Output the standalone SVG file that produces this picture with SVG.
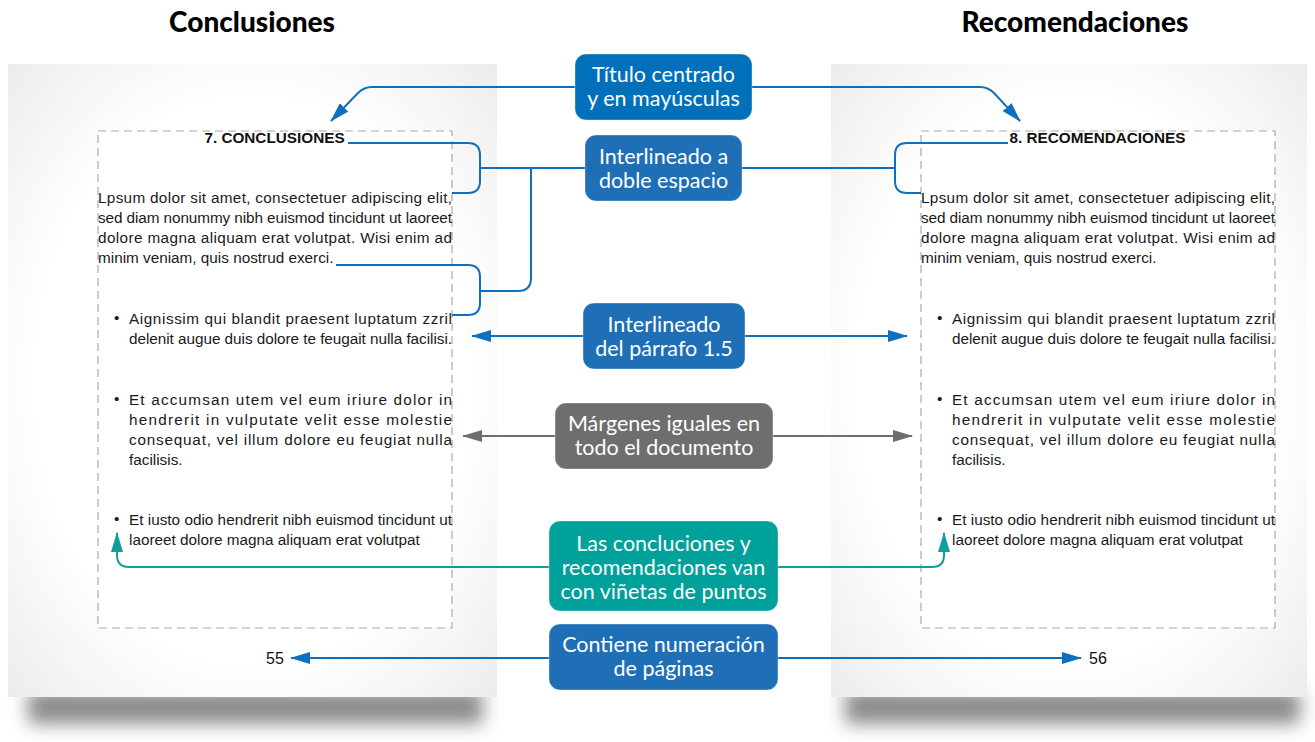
<svg xmlns="http://www.w3.org/2000/svg" width="1315" height="742" viewBox="0 0 1315 742">
  <defs>
    <radialGradient id="pageFill" cx="0.5" cy="0.5" r="0.72">
      <stop offset="0" stop-color="#ffffff"/>
      <stop offset="0.62" stop-color="#ffffff"/>
      <stop offset="1" stop-color="#ebebeb"/>
    </radialGradient>
    <filter id="softShadow" x="-20%" y="-100%" width="140%" height="300%">
      <feGaussianBlur stdDeviation="9"/>
    </filter>
    <marker id="arrowBlue" markerUnits="userSpaceOnUse" markerWidth="20" markerHeight="12" refX="19" refY="6" orient="auto-start-reverse">
      <path d="M0,0 L20,6 L0,12 Z" fill="#0f6fbf"/>
    </marker>
    <marker id="arrowGray" markerUnits="userSpaceOnUse" markerWidth="20" markerHeight="12" refX="19" refY="6" orient="auto-start-reverse">
      <path d="M0,0 L20,6 L0,12 Z" fill="#6e6e6e"/>
    </marker>
    <marker id="arrowTeal" markerUnits="userSpaceOnUse" markerWidth="20" markerHeight="12" refX="19" refY="6" orient="auto-start-reverse">
      <path d="M0,0 L20,6 L0,12 Z" fill="#0e9f98"/>
    </marker>
  </defs>
  <style>
    .heading { font-family: Lato, "Open Sans", sans-serif; font-weight: 900; font-size: 28px; fill: #000; text-anchor: middle; }
    .page { fill: url(#pageFill); }
    .shadow { fill: #8c8c8c; filter: url(#softShadow); }
    .frame { fill: #ffffff; stroke: #a9a9a9; stroke-width: 1.2; stroke-dasharray: 8 5; }
    .body { font-family: "Liberation Sans", Arial, sans-serif; font-size: 15.3px; fill: #1a1a1a; }
    .title { font-family: "Liberation Sans", Arial, sans-serif; font-size: 15.3px; font-weight: bold; fill: #111; text-anchor: middle; }
    .num { font-family: "Liberation Sans", Arial, sans-serif; font-size: 16px; fill: #111; text-anchor: middle; }
    .box { stroke: #ffffff; stroke-opacity: 0.35; stroke-width: 1; }
    .label { font-family: Lato, "Open Sans", sans-serif; font-size: 21.5px; fill: #ffffff; text-anchor: middle; }
    .blue { fill: #0070bb; }
    .mid { fill: #1f6fb6; }
    .gray { fill: #6e6e6e; }
    .teal { fill: #00a19a; }
    .lnBlue { fill: none; stroke: #0f6fbf; stroke-width: 2; }
    .lnGray { fill: none; stroke: #6e6e6e; stroke-width: 2; }
    .lnTeal { fill: none; stroke: #0e9f98; stroke-width: 2; }
  </style>

  <rect width="1315" height="742" fill="#ffffff"/>

  <!-- section headings -->
  <text class="heading" x="252" y="32">Conclusiones</text>
  <text class="heading" x="1075" y="32">Recomendaciones</text>

  <!-- left page -->
  <g id="page-left">
    <rect class="shadow" x="28" y="690" width="455" height="34"/>
    <rect class="page" x="8" y="64" width="489" height="633"/>
    <rect class="frame" x="98" y="131" width="354" height="497"/>
    <text class="title" x="274.5" y="143">7. CONCLUSIONES</text>
    <g class="body">
      <text x="98" y="203" textLength="354" lengthAdjust="spacing">Lpsum dolor sit amet, consectetuer adipiscing elit,</text>
      <text x="98" y="223" textLength="354" lengthAdjust="spacing">sed diam nonummy nibh euismod tincidunt ut laoreet</text>
      <text x="98" y="243" textLength="354" lengthAdjust="spacing">dolore magna aliquam erat volutpat. Wisi enim ad</text>
      <text x="98" y="263">minim veniam, quis nostrud exerci.</text>
      <text x="114" y="323">•</text>
      <text x="129" y="324" textLength="323" lengthAdjust="spacing">Aignissim qui blandit praesent luptatum zzril</text>
      <text x="129" y="344" textLength="323" lengthAdjust="spacing">delenit augue duis dolore te feugait nulla facilisi.</text>
      <text x="114" y="404">•</text>
      <text x="129" y="405" textLength="323" lengthAdjust="spacing">Et accumsan utem vel eum iriure dolor in</text>
      <text x="129" y="425" textLength="323" lengthAdjust="spacing">hendrerit in vulputate velit esse molestie</text>
      <text x="129" y="445" textLength="323" lengthAdjust="spacing">consequat, vel illum dolore eu feugiat nulla</text>
      <text x="129" y="465">facilisis.</text>
      <text x="114" y="524">•</text>
      <text x="129" y="525" textLength="323" lengthAdjust="spacing">Et iusto odio hendrerit nibh euismod tincidunt ut</text>
      <text x="129" y="545">laoreet dolore magna aliquam erat volutpat</text>
    </g>
    <text class="num" x="275" y="664">55</text>
  </g>

  <!-- right page -->
  <g id="page-right">
    <rect class="shadow" x="845" y="690" width="455" height="34"/>
    <rect class="page" x="831" y="64" width="476" height="633"/>
    <rect class="frame" x="921" y="131" width="354" height="497"/>
    <text class="title" x="1097.5" y="143">8. RECOMENDACIONES</text>
    <g class="body">
      <text x="921" y="203" textLength="354" lengthAdjust="spacing">Lpsum dolor sit amet, consectetuer adipiscing elit,</text>
      <text x="921" y="223" textLength="354" lengthAdjust="spacing">sed diam nonummy nibh euismod tincidunt ut laoreet</text>
      <text x="921" y="243" textLength="354" lengthAdjust="spacing">dolore magna aliquam erat volutpat. Wisi enim ad</text>
      <text x="921" y="263">minim veniam, quis nostrud exerci.</text>
      <text x="937" y="323">•</text>
      <text x="952" y="324" textLength="323" lengthAdjust="spacing">Aignissim qui blandit praesent luptatum zzril</text>
      <text x="952" y="344" textLength="323" lengthAdjust="spacing">delenit augue duis dolore te feugait nulla facilisi.</text>
      <text x="937" y="404">•</text>
      <text x="952" y="405" textLength="323" lengthAdjust="spacing">Et accumsan utem vel eum iriure dolor in</text>
      <text x="952" y="425" textLength="323" lengthAdjust="spacing">hendrerit in vulputate velit esse molestie</text>
      <text x="952" y="445" textLength="323" lengthAdjust="spacing">consequat, vel illum dolore eu feugiat nulla</text>
      <text x="952" y="465">facilisis.</text>
      <text x="937" y="524">•</text>
      <text x="952" y="525" textLength="323" lengthAdjust="spacing">Et iusto odio hendrerit nibh euismod tincidunt ut</text>
      <text x="952" y="545">laoreet dolore magna aliquam erat volutpat</text>
    </g>
    <text class="num" x="1098" y="664">56</text>
  </g>

  <!-- connectors -->
  <g id="connectors">
    <!-- centred title -->
    <path class="lnBlue" d="M575,87 H372 Q364,87 358,93 L331,121" marker-end="url(#arrowBlue)"/>
    <path class="lnBlue" d="M752,87 H980 Q988,87 994,93 L1020,121" marker-end="url(#arrowBlue)"/>
    <!-- double spacing brackets, left -->
    <path class="lnBlue" d="M348,143 H468 Q480,143 480,155 V181 Q480,193 468,193 H452"/>
    <path class="lnBlue" d="M480,168 H585"/>
    <path class="lnBlue" d="M336,265 H468 Q480,265 480,277 V303 Q480,315 468,315 H452"/>
    <path class="lnBlue" d="M480,291 H518 Q531,291 531,278 V168"/>
    <!-- double spacing bracket, right -->
    <path class="lnBlue" d="M1008,143 H907 Q895,143 895,155 V181 Q895,193 907,193 H921"/>
    <path class="lnBlue" d="M742,168 H895"/>
    <!-- paragraph spacing -->
    <path class="lnBlue" d="M583,336 H472" marker-end="url(#arrowBlue)"/>
    <path class="lnBlue" d="M745,336 H907" marker-end="url(#arrowBlue)"/>
    <!-- margins -->
    <path class="lnGray" d="M555,436 H463" marker-end="url(#arrowGray)"/>
    <path class="lnGray" d="M773,436 H912" marker-end="url(#arrowGray)"/>
    <!-- bullets -->
    <path class="lnTeal" d="M549,567 H129 Q117,567 117,555 V533" marker-end="url(#arrowTeal)"/>
    <path class="lnTeal" d="M778,567 H932 Q944,567 944,555 V533" marker-end="url(#arrowTeal)"/>
    <!-- page numbers -->
    <path class="lnBlue" d="M549,658 H291" marker-end="url(#arrowBlue)"/>
    <path class="lnBlue" d="M778,658 H1081" marker-end="url(#arrowBlue)"/>
  </g>

  <!-- callout nodes -->
  <g id="node-titulo">
    <rect class="box blue" x="575" y="54" width="177" height="66" rx="11"/>
    <text class="label" x="663.5" y="82">Título centrado</text>
    <text class="label" x="663.5" y="106">y en mayúsculas</text>
  </g>
  <g id="node-doble">
    <rect class="box mid" x="585" y="135" width="157" height="66" rx="11"/>
    <text class="label" x="663.5" y="164">Interlineado a</text>
    <text class="label" x="663.5" y="188">doble espacio</text>
  </g>
  <g id="node-parrafo">
    <rect class="box mid" x="583" y="303" width="162" height="66" rx="11"/>
    <text class="label" x="664" y="332">Interlineado</text>
    <text class="label" x="664" y="356">del párrafo 1.5</text>
  </g>
  <g id="node-margenes">
    <rect class="box gray" x="555" y="403" width="218" height="66" rx="11"/>
    <text class="label" x="664" y="431">Márgenes iguales en</text>
    <text class="label" x="664" y="455">todo el documento</text>
  </g>
  <g id="node-vinetas">
    <rect class="box teal" x="549" y="521" width="229" height="90" rx="11"/>
    <text class="label" x="663.5" y="551">Las concluciones y</text>
    <text class="label" x="663.5" y="575">recomendaciones van</text>
    <text class="label" x="663.5" y="599">con viñetas de puntos</text>
  </g>
  <g id="node-numeracion">
    <rect class="box mid" x="549" y="624" width="229" height="66" rx="11"/>
    <text class="label" x="663.5" y="652">Contiene numeración</text>
    <text class="label" x="663.5" y="676">de páginas</text>
  </g>
</svg>
